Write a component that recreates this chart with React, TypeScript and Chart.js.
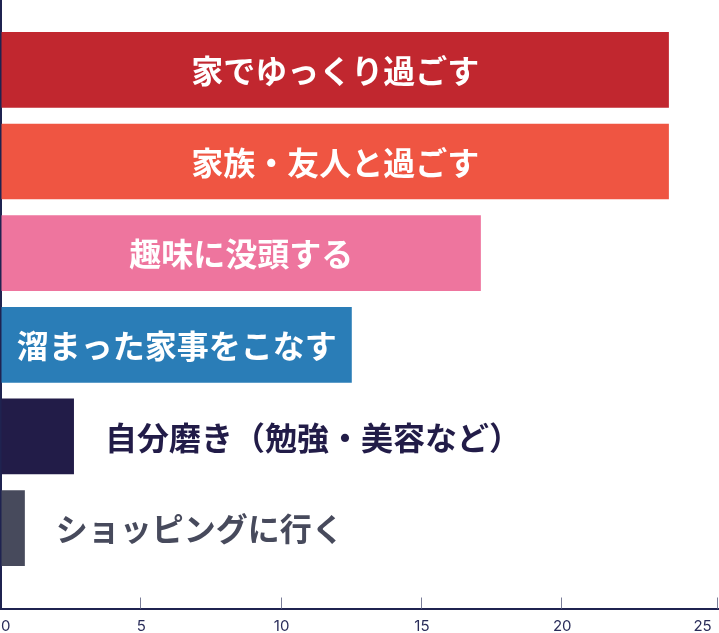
import React, { useEffect, useRef } from "react";
import { Chart, registerables } from "chart.js";

Chart.register(...registerables);

const categories = [
  "家でゆっくり過ごす",
  "家族・友人と過ごす",
  "趣味に没頭する",
  "溜まった家事をこなす",
  "自分磨き（勉強・美容など）",
  "ショッピングに行く",
];
const values = [23.8, 23.8, 17.1, 12.5, 2.6, 0.85];
const barColors = ["#c1272f", "#ef5542", "#ee759e", "#2a7db7", "#221c48", "#474a5c"];
const positions = [0, 1, 2, 3, 4, 5];
const xTicks = [0, 5, 10, 15, 20, 25];
const X_MAX = 25.55;

const NAVY = "#1f2350";

const tickMarkPlugin = {
  id: "tickMarks",
  afterDraw(chart: any) {
    const { ctx, chartArea } = chart;
    const xs = chart.scales.x;
    ctx.save();
    ctx.strokeStyle = "#7a7d98";
    ctx.lineWidth = 1;
    xs.ticks.forEach((t: any) => {
      if (t.value <= 0 || t.value === 25) return;
      const px = Math.round(xs.getPixelForValue(t.value)) - 0.5;
      ctx.beginPath();
      ctx.moveTo(px, chartArea.bottom - 11);
      ctx.lineTo(px, chartArea.bottom);
      ctx.stroke();
    });
    ctx.restore();
  },
};

const labelPlugin = {
  id: "barLabels",
  afterDatasetsDraw(chart: any) {
    const ctx = chart.ctx;
    const meta = chart.getDatasetMeta(0);
    ctx.save();
    ctx.font = 'bold 32px "Noto Sans CJK JP"';
    ctx.textBaseline = "middle";
    meta.data.forEach((bar: any, i: number) => {
      const text = categories[i];
      const w = ctx.measureText(text).width;
      const left = bar.base;
      const right = bar.x;
      if (w + 16 <= right - left) {
        ctx.fillStyle = "#ffffff";
        ctx.textAlign = "center";
        ctx.fillText(text, (left + right) / 2, bar.y + 1);
      } else {
        ctx.fillStyle = barColors[i];
        ctx.textAlign = "left";
        ctx.fillText(text, right + 31, bar.y + 1);
      }
    });
    ctx.restore();
  },
};

export default function App() {
  const ref = useRef<HTMLCanvasElement | null>(null);

  useEffect(() => {
    if (!ref.current) return;
    const chart = new Chart(ref.current, {
      type: "bar",
      data: {
        datasets: [
          {
            data: values.map((v, i) => ({ x: v, y: positions[i] })) as any,
            backgroundColor: barColors,
            borderWidth: 0,
            barPercentage: 0.826,
            categoryPercentage: 1,
          },
        ],
      },
      options: {
        indexAxis: "y",
        animation: false,
        responsive: true,
        maintainAspectRatio: false,
        layout: { padding: { left: 0, right: 1, top: 0, bottom: 0 } },
        plugins: {
          legend: { display: false },
          tooltip: { enabled: false },
          title: { display: false },
        },
        scales: {
          x: {
            type: "linear",
            min: 0,
            max: X_MAX,
            afterBuildTicks: (s: any) => {
              s.ticks = [...xTicks, X_MAX].map((v) => ({ value: v }));
            },
            afterFit: (s: any) => {
              s.paddingLeft = 0;
              s.paddingRight = 0;
              s.height = 24.5;
            },
            grid: { display: true, drawOnChartArea: false, drawTicks: false },
            border: { display: true, color: NAVY, width: 2 },
            ticks: {
              align: "inner",
              autoSkip: false,
              maxRotation: 0,
              padding: 9,
              color: "#2a2d5a",
              font: { family: "Inter, sans-serif", size: 15 },
              callback: (v: any) => (xTicks.includes(Number(v)) ? String(v) : ""),
            },
          },
          y: {
            type: "linear",
            reverse: true,
            offset: false,
            min: -0.762,
            max: 5.877,
            afterBuildTicks: (s: any) => {
              s.ticks = positions.map((v) => ({ value: v }));
            },
            grid: { display: true, offset: false, drawOnChartArea: false, drawTicks: false },
            border: { display: true, color: NAVY, width: 2 },
            ticks: { display: false },
            afterFit: (s: any) => {
              s.width = 1;
            },
          },
        },
      } as any,
      plugins: [labelPlugin, tickMarkPlugin],
    });
    return () => chart.destroy();
  }, []);

  return (
    <div style={{ position: "absolute", left: 0, top: 0, width: 719, height: 633, background: "#ffffff" }}>
      <canvas ref={ref} />
    </div>
  );
}
